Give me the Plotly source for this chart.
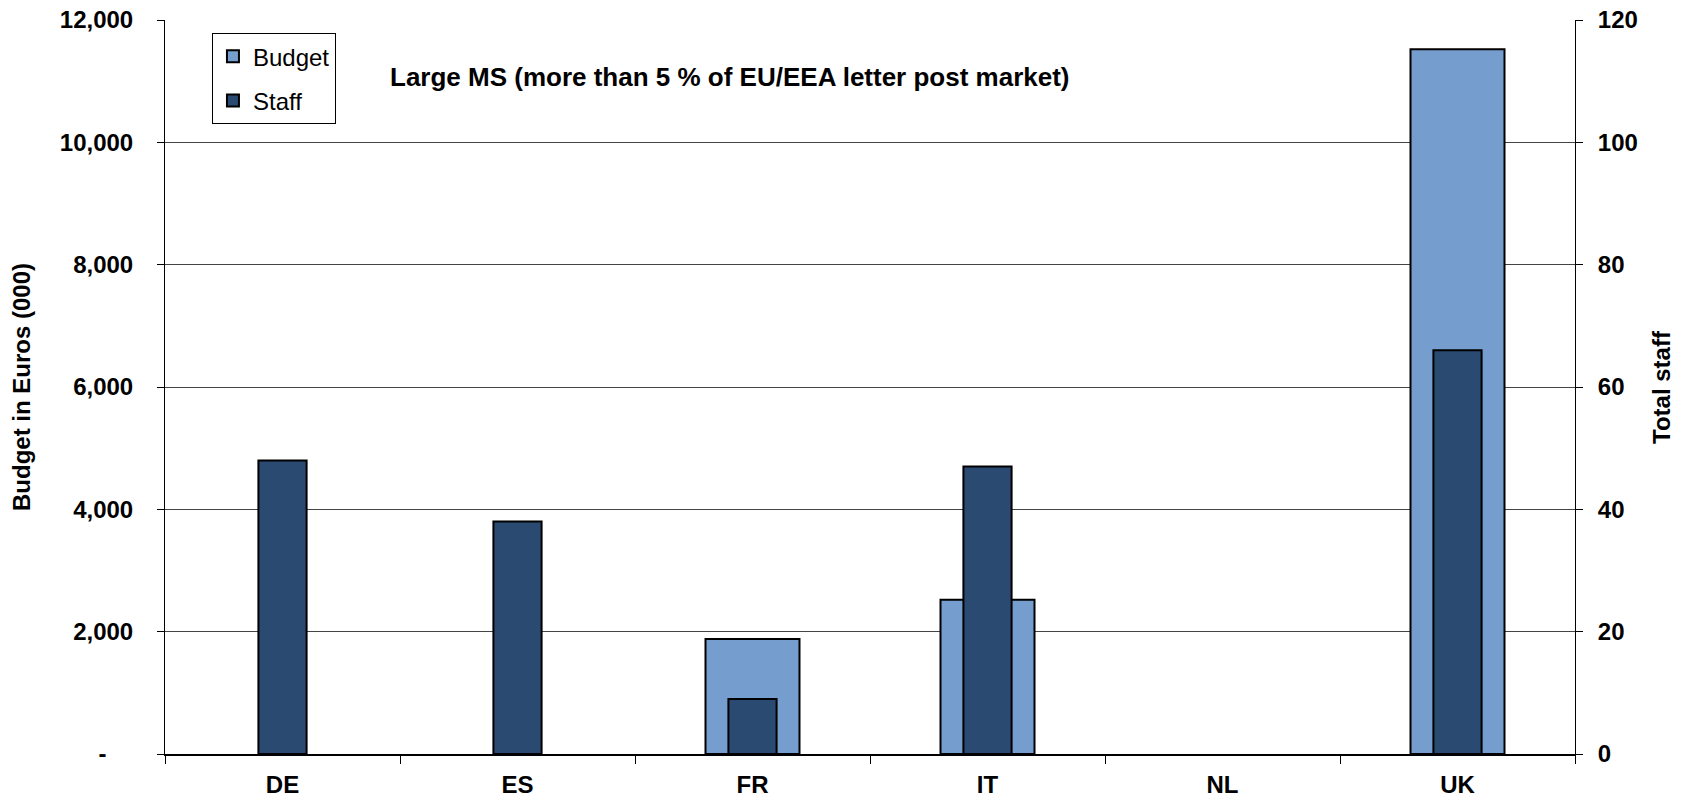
import plotly.graph_objects as go

countries = ["DE", "ES", "FR", "IT", "NL", "UK"]
budget = [None, None, 1880, 2520, None, 11520]   # Euros (000); no budget bar drawn
staff = [48, 38, 9, 47, None, 66]                # total staff

left_ticks = [0, 2000, 4000, 6000, 8000, 10000, 12000]
left_text = ["-\u00a0\u00a0\u00a0\u00a0", "2,000", "4,000", "6,000", "8,000", "10,000", "12,000"]
right_ticks = [0, 20, 40, 60, 80, 100, 120]

FONT = "Liberation Sans, Arial, sans-serif"
BUDGET_C = "#759ECF"
STAFF_C = "#2A4A72"
BOLD24 = dict(size=24, family=FONT, weight="bold", color="black")

fig = go.Figure()
fig.add_trace(go.Bar(
    x=countries, y=budget, name="Budget", yaxis="y", width=0.4,
    marker=dict(color=BUDGET_C, line=dict(color="black", width=2)),
    legendgroup="b",
))
fig.add_trace(go.Bar(
    x=countries, y=staff, name="Staff", yaxis="y2", width=0.205,
    marker=dict(color=STAFF_C, line=dict(color="black", width=2)),
    legendgroup="s",
))

fig.update_layout(
    width=1682, height=803,
    margin=dict(l=165, r=107, t=20, b=49, autoexpand=False),
    paper_bgcolor="white", plot_bgcolor="white",
    barmode="overlay",
    font=dict(family=FONT, size=24, color="black"),
    showlegend=True,
    legend=dict(
        x=0.0333, y=0.982, xanchor="left", yanchor="top",
        bordercolor="black", borderwidth=1, bgcolor="white",
        font=dict(size=24, family=FONT), tracegroupgap=10,
    ),
    xaxis=dict(
        type="category", tickson="boundaries", ticks="outside", ticklen=8,
        tickcolor="black", showline=True, linecolor="black", linewidth=2,
        tickfont=BOLD24, automargin=False,
        ticklabelstandoff=8, showgrid=False, range=[-0.5, 5.5],
    ),
    yaxis=dict(
        range=[0, 12000], tickvals=left_ticks, ticktext=left_text,
        ticks="outside", ticklen=7, tickcolor="black",
        showline=True, linecolor="black", linewidth=1,
        showgrid=True, gridcolor="#444444", gridwidth=1,
        tickfont=BOLD24, automargin=False,
        ticklabelstandoff=19, zeroline=False,
    ),
    yaxis2=dict(
        range=[0, 120], tickvals=right_ticks, overlaying="y", side="right",
        ticks="outside", ticklen=7, tickcolor="black",
        showline=True, linecolor="black", linewidth=1, showgrid=False,
        tickfont=BOLD24, automargin=False,
        ticklabelstandoff=10, zeroline=False,
    ),
    annotations=[
        dict(
            text="<b>Large MS (more than 5 % of EU/EEA letter post market)</b>",
            xref="paper", yref="paper", x=0.401, y=0.922, xanchor="center", yanchor="middle",
            showarrow=False, font=dict(size=26, family=FONT),
        ),
        dict(
            text="<b>Budget in Euros (000)</b>", textangle=-90,
            xref="paper", yref="paper", x=(21 - 165) / 1410, y=0.5,
            xanchor="center", yanchor="middle", showarrow=False,
            font=dict(size=24, family=FONT),
        ),
        dict(
            text="<b>Total staff</b>", textangle=-90,
            xref="paper", yref="paper", x=(1661 - 165) / 1410, y=0.5,
            xanchor="center", yanchor="middle", showarrow=False,
            font=dict(size=24, family=FONT),
        ),
    ],
)

fig.write_html(
    "out.html",
    config={"displayModeBar": False},
    post_script="document.body.style.margin='0';document.body.style.overflow='hidden';",
)
